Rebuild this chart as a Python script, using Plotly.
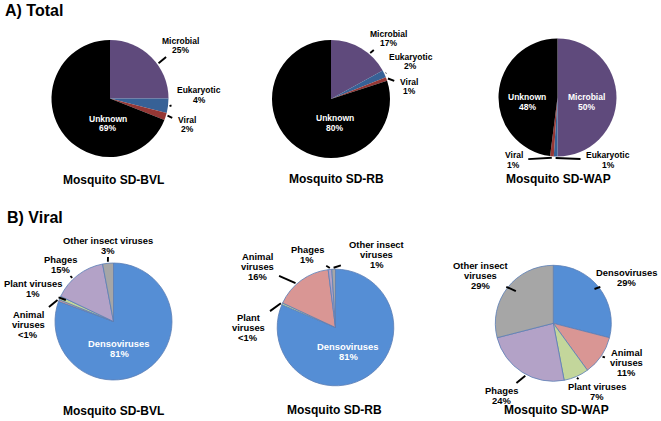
import math
import plotly.graph_objects as go

W, H = 661, 421

# ---------------- data ----------------
total_categories = ["Microbial", "Eukaryotic", "Viral", "Unknown"]
total_bvl = [25, 4, 2, 69]
total_rb = [17, 2, 1, 80]
total_wap = [50, 1, 1, 48]
total_colors = {"Microbial": "#5f4a7c", "Eukaryotic": "#376196",
                "Viral": "#953735", "Unknown": "#000000"}

viral_categories_bvl = ["Densoviruses", "Animal viruses", "Plant viruses", "Phages", "Other insect viruses"]
viral_bvl = [81, 0.5, 1, 15, 3]
viral_categories_rb = ["Densoviruses", "Plant viruses", "Animal viruses", "Phages", "Other insect viruses"]
viral_rb = [81, 0.5, 16, 1, 1]
viral_categories_wap = ["Densoviruses", "Animal viruses", "Plant viruses", "Phages", "Other insect viruses"]
viral_wap = [29, 11, 7, 24, 29]
viral_colors = {"Densoviruses": "#558ed5", "Animal viruses": "#d99694",
                "Plant viruses": "#c3d69b", "Phages": "#b3a2c7",
                "Other insect viruses": "#a6a6a6"}

sample_titles = ["Mosquito SD-BVL", "Mosquito SD-RB", "Mosquito SD-WAP"]
panel_titles = ["A) Total", "B) Viral"]

# ---------------- layout (pixels) ----------------
pies = [
    dict(cats=total_categories, vals=total_bvl, colors=total_colors, c=(110, 98.5), r=58.5,
         line=0, fs=8.5, ls=9.5, title=sample_titles[0], tpos=(113, 180),
         labels={"Microbial": ("Microbial", (180, 45.5), False, 0.6),
                 "Eukaryotic": ("Eukaryotic", (199, 95), False, 0.5),
                 "Viral": ("Viral", (187, 124.5), False, 0.3),
                 "Unknown": ("Unknown", (108, 123.5), True, 0.5)}),
    dict(cats=total_categories, vals=total_rb, colors=total_colors, c=(331, 99), r=59,
         line=0, fs=8.5, ls=9.5, title=sample_titles[1], tpos=(336.5, 178.5),
         labels={"Microbial": ("Microbial", (388, 38.5), False, 0.66),
                 "Eukaryotic": ("Eukaryotic", (410.5, 61.5), False, 0.5),
                 "Viral": ("Viral", (409, 86.5), False, 0.5),
                 "Unknown": ("Unknown", (335, 123), True, 0.5)}),
    dict(cats=total_categories, vals=total_wap, colors=total_colors, c=(557.5, 97.5), r=59,
         line=0, fs=8.5, ls=9.5, title=sample_titles[2], tpos=(558, 179),
         labels={"Microbial": ("Microbial", (586, 102), True, 0.5),
                 "Eukaryotic": ("Eukaryotic", (608, 160), False, 0.5),
                 "Viral": ("Viral", (513.5, 160), False, 0.5),
                 "Unknown": ("Unknown", (527, 102), True, 0.5)}),
    dict(cats=viral_categories_bvl, vals=viral_bvl, colors=viral_colors, c=(113.5, 321.5), r=58.5,
         line=0.8, fs=9.4, ls=10, title=sample_titles[0], tpos=(113.3, 410.5),
         labels={"Densoviruses": ("Densoviruses", (119.3, 348), True, 0.5),
                 "Animal viruses": ("Animal<br>viruses", (28.3, 324), False, 0.5),
                 "Plant viruses": ("Plant viruses", (33, 288), False, 0.5),
                 "Phages": ("Phages", (60, 264), False, 0.39),
                 "Other insect viruses": ("Other insect viruses", (108.3, 245), False, 0.5)}),
    dict(cats=viral_categories_rb, vals=viral_rb, colors=viral_colors, c=(335.5, 327.5), r=58.3,
         line=0.8, fs=9.4, ls=10, title=sample_titles[1], tpos=(335, 410),
         labels={"Densoviruses": ("Densoviruses", (348.3, 351.3), True, 0.5),
                 "Plant viruses": ("Plant<br>viruses", (248.3, 327), False, 0.5),
                 "Animal viruses": ("Animal<br>viruses", (257.3, 266.7), False, 0.4),
                 "Phages": ("Phages", (307.3, 254.5), False, 0.5),
                 "Other insect viruses": ("Other insect<br>viruses", (376.7, 254), False, 0.5)}),
    dict(cats=viral_categories_wap, vals=viral_wap, colors=viral_colors, c=(553.3, 323.3), r=58,
         line=0.8, fs=9.4, ls=10, title=sample_titles[2], tpos=(556, 410),
         labels={"Densoviruses": ("Densoviruses", (626.7, 277), False, 0.5),
                 "Animal viruses": ("Animal<br>viruses", (626.7, 362.3), False, 0.5),
                 "Plant viruses": ("Plant viruses", (596.7, 391), False, 0.5),
                 "Phages": ("Phages", (501.7, 395), False, 0.45),
                 "Other insect viruses": ("Other insect<br>viruses", (480, 275.3), False, 0.5)}),
]

FONT = "Liberation Sans, Arial, sans-serif"


def pct(v):
    return "&lt;1%" if v < 1 else f"{v:g}%"


def text_lines(tx, ty, lines, fs, ls, color):
    """One annotation per text line so that the line spacing matches the original."""
    out = []
    n = len(lines)
    for i, ln in enumerate(lines):
        y = ty + (i - (n - 1) / 2) * ls
        out.append(dict(x=tx / W, y=1 - y / H, xref="paper", yref="paper",
                        xanchor="center", yanchor="middle",
                        text=f"<b>{ln}</b>", showarrow=False,
                        font=dict(family=FONT, size=fs, color=color)))
    return out


fig = go.Figure()
annotations = []
shapes = []

for p in pies:
    cx, cy = p["c"]
    r = p["r"]
    fig.add_trace(go.Pie(
        labels=p["cats"], values=p["vals"],
        marker=dict(colors=[p["colors"][k] for k in p["cats"]],
                    line=dict(color="#5b7db5", width=p["line"])),
        sort=False, direction="clockwise", rotation=0,
        textinfo="none", showlegend=False,
        domain=dict(x=[(cx - r) / W, (cx + r) / W], y=[1 - (cy + r) / H, 1 - (cy - r) / H]),
    ))
    total = sum(p["vals"])
    cum = 0
    for cat, v in zip(p["cats"], p["vals"]):
        name, (tx, ty), inside, frac = p["labels"][cat]
        lines = name.split("<br>") + [pct(v)]
        color = "white" if inside else "black"
        annotations += text_lines(tx, ty, lines, p["fs"], p["ls"], color)
        if not inside:
            ang = math.radians((cum + frac * v) / total * 360)
            rr = r + 1.5
            ex = cx + rr * math.sin(ang)
            ey = cy - rr * math.cos(ang)
            # leader line from the edge of the label block to the slice
            nchar = max(len(s.replace("&lt;", "<")) for s in lines)
            hw = nchar * p["fs"] * 0.6 / 2 + 2
            hh = len(lines) * p["ls"] / 2 + 2
            dx, dy = ex - tx, ey - ty
            t = min(hw / abs(dx) if dx else 1e9, hh / abs(dy) if dy else 1e9)
            sx, sy = tx + dx * t, ty + dy * t
            shapes.append(dict(type="line", xref="paper", yref="paper", layer="above",
                               x0=sx / W, y0=1 - sy / H, x1=ex / W, y1=1 - ey / H,
                               line=dict(color="black", width=1.9)))
        cum += v
    tx, ty = p["tpos"]
    annotations += text_lines(tx, ty, [p["title"]], 12, 0, "black")

for title, (px, py) in zip(panel_titles, [(3, 11), (5, 218)]):
    annotations.append(dict(x=px / W, y=1 - py / H, xref="paper", yref="paper",
                            xanchor="left", yanchor="middle",
                            text=f"<b>{title}</b>", showarrow=False,
                            font=dict(family=FONT, size=16, color="black")))

fig.update_layout(width=W, height=H, margin=dict(l=0, r=0, t=0, b=0),
                  paper_bgcolor="white", plot_bgcolor="white",
                  annotations=annotations, shapes=shapes, showlegend=False)

fig.write_html("out.html", config={"displayModeBar": False},
               post_script="document.body.style.margin='0px';")
